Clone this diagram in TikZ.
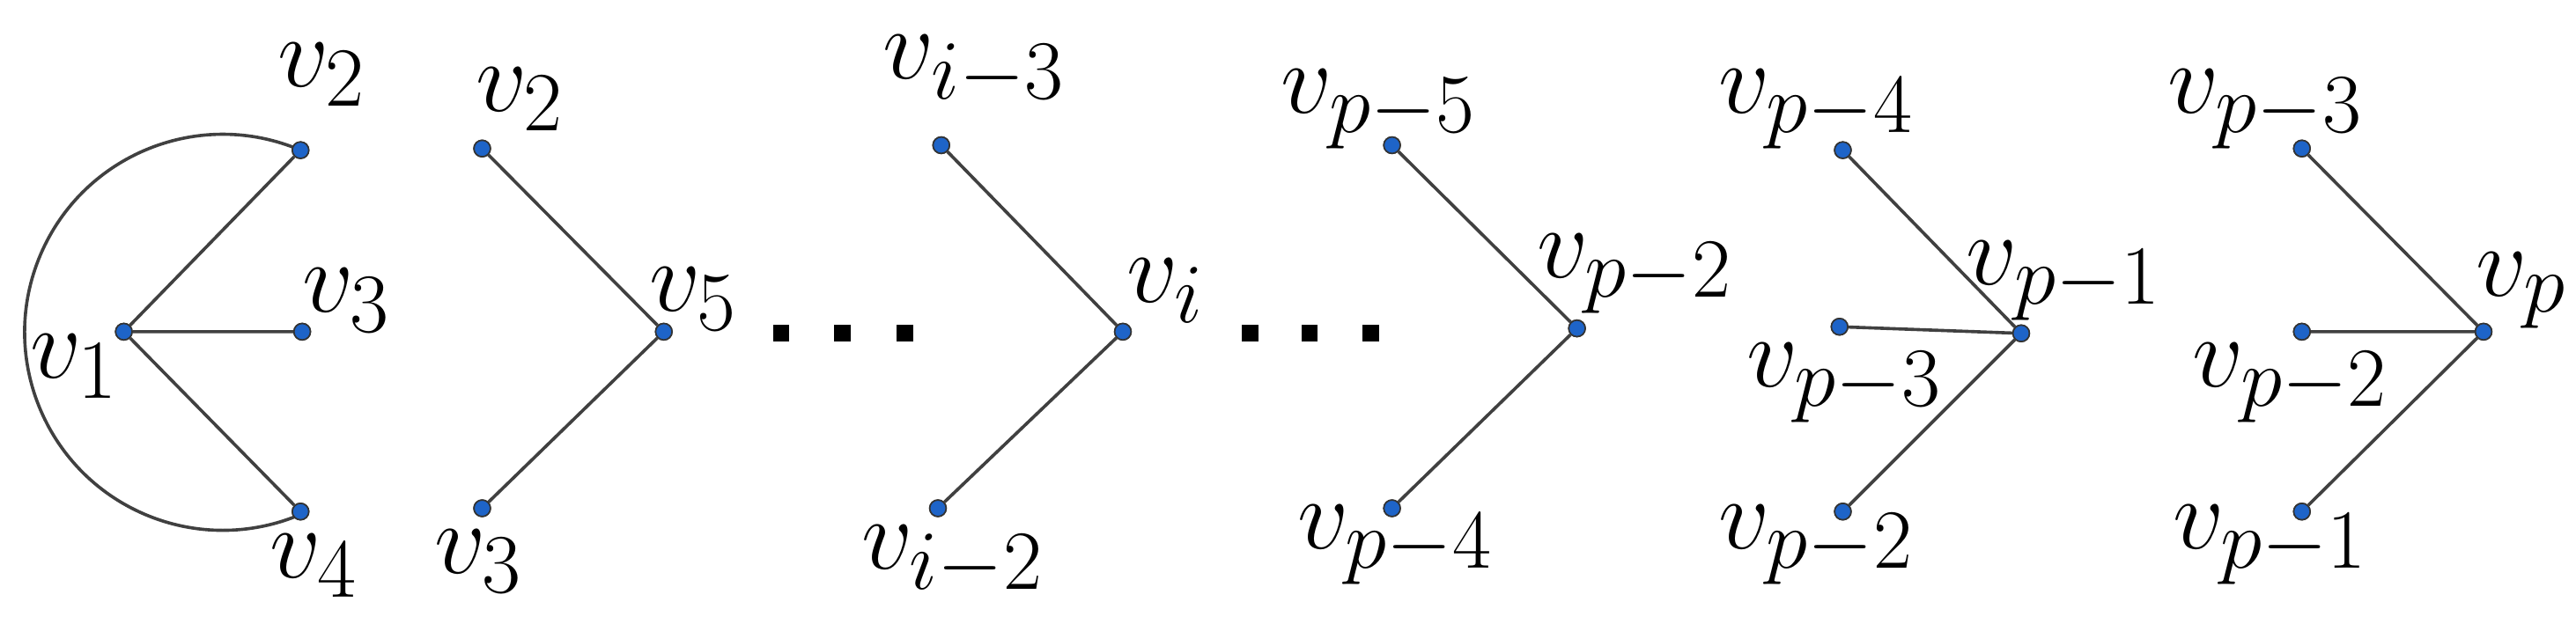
\documentclass[tikz,border=0pt]{standalone}
\begin{document}
\begin{tikzpicture}[x=0.02cm,y=-0.02cm,
  vtx/.style={circle,draw=black!80,fill={rgb,255:red,30;green,100;blue,200},inner sep=0pt,minimum size=0.2cm,line width=0.5pt},
  lbl/.style={font=\Huge,scale=1.4,inner sep=0pt},
  edge/.style={draw=black!75,line width=1.1pt},
  sq/.style={fill=black,inner sep=0pt,minimum size=0.2cm}]
\useasboundingbox (0,0) rectangle (1560,378);
% group 1
\node[vtx] (a1) at (75,201) {};
\node[vtx] (a2) at (182,91) {};
\node[vtx] (a3) at (183,201) {};
\node[vtx] (a4) at (182,310) {};
\draw[edge] (a2.center) arc[start angle=-66.9,end angle=-293.1,radius=120];
\draw[edge] (a1)--(a2) (a1)--(a3) (a1)--(a4);
\node[lbl] (la1) at (45,222) {$v_1$};
\node[lbl] (la2) at (195,45) {$v_2$};
\node[lbl] (la3) at (210,182) {$v_3$};
\node[lbl] (la4) at (190,343) {$v_4$};
% group 2
\node[vtx] (b2) at (292,90) {};
\node[vtx] (b5) at (402,201) {};
\node[vtx] (b3) at (292,308) {};
\draw[edge] (b5)--(b2) (b5)--(b3);
\node[lbl] (lb2) at (315,60) {$v_2$};
\node[lbl] (lb5) at (420,181) {$v_5$};
\node[lbl] (lb3) at (290,340) {$v_3$};
% dots
\foreach \x [count=\i] in {473,510,548} \node[sq] (d\i) at (\x,202) {};
\foreach \x [count=\i] in {757,793,830} \node[sq] (e\i) at (\x,202) {};
% group 3
\node[vtx] (c1) at (570,88) {};
\node[vtx] (c0) at (680,201) {};
\node[vtx] (c2) at (568,308) {};
\draw[edge] (c0)--(c1) (c0)--(c2);
\node[lbl] (lc1) at (590,43) {$v_{i-3}$};
\node[lbl] (lc0) at (706,176) {$v_i$};
\node[lbl] (lc2) at (577,340) {$v_{i-2}$};
% group 4
\node[vtx] (f1) at (843,88) {};
\node[vtx] (f0) at (955,199) {};
\node[vtx] (f2) at (843,308) {};
\draw[edge] (f0)--(f1) (f0)--(f2);
\node[lbl] (lf1) at (835,66) {$v_{p-5}$};
\node[lbl] (lf0) at (990,166) {$v_{p-2}$};
\node[lbl] (lf2) at (845,330) {$v_{p-4}$};
% group 5
\node[vtx] (g1) at (1116,91) {};
\node[vtx] (g0) at (1224,202) {};
\node[vtx] (g2) at (1114,198) {};
\node[vtx] (g3) at (1116,310) {};
\draw[edge] (g0)--(g1) (g0)--(g2) (g0)--(g3);
\node[lbl] (lg1) at (1100,66) {$v_{p-4}$};
\node[lbl] (lg0) at (1250,170) {$v_{p-1}$};
\node[lbl] (lg2) at (1117,232) {$v_{p-3}$};
\node[lbl] (lg3) at (1100,330) {$v_{p-2}$};
% group 6
\node[vtx] (h1) at (1394,90) {};
\node[vtx] (h0) at (1504,201) {};
\node[vtx] (h2) at (1394,201) {};
\node[vtx] (h3) at (1394,310) {};
\draw[edge] (h0)--(h1) (h0)--(h2) (h0)--(h3);
\node[lbl] (lh1) at (1372,66) {$v_{p-3}$};
\node[lbl] (lh0) at (1527,176) {$v_p$};
\node[lbl] (lh2) at (1387,232) {$v_{p-2}$};
\node[lbl] (lh3) at (1375,330) {$v_{p-1}$};
% redraw vertices on top
\foreach \n in {a1,a2,a3,a4,b2,b5,b3,c1,c0,c2,f1,f0,f2,g1,g0,g2,g3,h1,h0,h2,h3}
  \node[vtx] at (\n) {};
\end{tikzpicture}
\end{document}
